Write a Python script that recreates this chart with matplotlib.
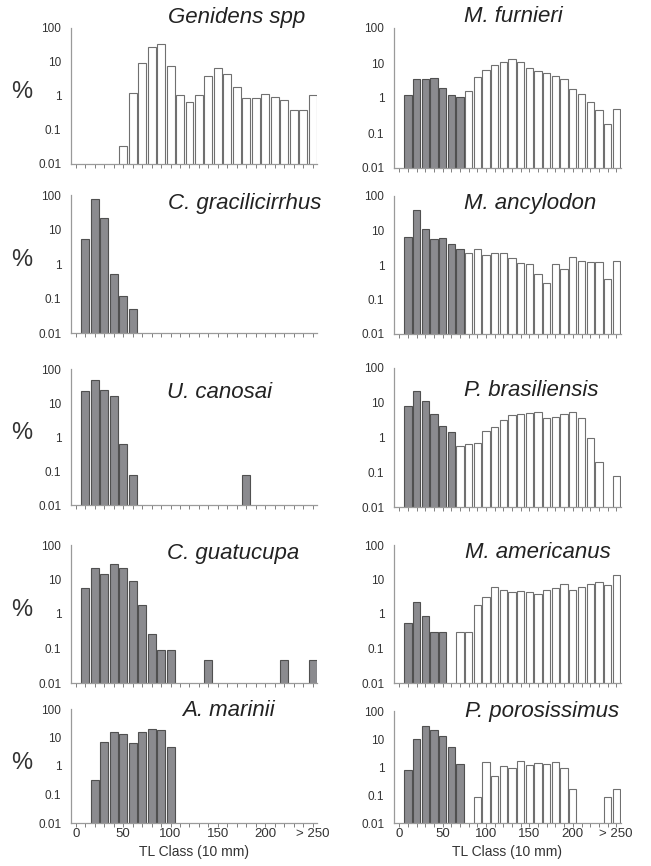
import numpy as np
import matplotlib.pyplot as plt

plt.rcParams['font.family'] = ['Liberation Sans', 'DejaVu Sans']

# TL CLASSES (10 mm), 0 ... > 250
tl_class = np.arange(26)
tick_labels = ["0", "", "", "", "", "50", "", "", "", "", "100", "", "", "", "", "150",
               "", "", "", "", "200", "", "", "", "", "> 250"]
y_ticks = [0.01, 0.1, 1, 10, 100]
y_labels = ["0.01", "0.1", "1", "10", "100"]

# PERCENT PER CLASS (0 = no fish in class)
genidens = [0, 0, 0, 0, 0, 0.035, 1.25, 9.3, 28, 34, 7.8, 1.05, 0.67, 1.05, 3.8, 6.6,
            4.4, 1.85, 0.88, 0.88, 1.15, 0.93, 0.78, 0.4, 0.4, 1.08]
c_gracilicirrhus = [0, 5.3, 78, 21, 0.53, 0.12, 0.05, 0, 0, 0, 0, 0, 0, 0, 0, 0,
                    0, 0, 0, 0, 0, 0, 0, 0, 0, 0]
u_canosai = [0, 22, 47, 23.5, 16.3, 0.62, 0.077, 0, 0, 0, 0, 0, 0, 0, 0, 0,
             0, 0, 0.077, 0, 0, 0, 0, 0, 0, 0]
c_guatucupa = [0, 5.6, 22, 14, 29, 21, 9, 1.8, 0.27, 0.093, 0.093, 0, 0, 0, 0.047, 0,
               0, 0, 0, 0, 0, 0, 0.047, 0, 0, 0.047]
a_marinii = [0, 0, 0.33, 6.7, 15.5, 13, 6.3, 15.5, 20.5, 18, 4.6, 0, 0, 0, 0, 0,
             0, 0, 0, 0, 0, 0, 0, 0, 0, 0]
m_furnieri = [0, 1.19, 3.4, 3.6, 3.7, 1.93, 1.22, 1.04, 1.62, 4.1, 6.4, 8.9, 10.4, 13, 10.9, 7.4,
              6.0, 5.2, 4.3, 3.6, 1.8, 1.3, 0.77, 0.45, 0.18, 0.5]
m_ancylodon = [0, 6.3, 38, 11.4, 5.6, 5.9, 4.0, 3.0, 2.27, 2.83, 1.94, 2.3, 2.3, 1.63, 1.17, 1.05,
               0.54, 0.31, 1.05, 0.77, 1.66, 1.3, 1.2, 1.2, 0.4, 1.3]
p_brasiliensis = [0, 8.2, 21.7, 11.1, 4.8, 2.1, 1.43, 0.57, 0.66, 0.69, 1.52, 2.07, 3.2, 4.5, 4.9, 5.0,
                  5.6, 3.7, 3.9, 4.9, 5.5, 3.6, 1.0, 0.2, 0, 0.08]
m_americanus = [0, 0.55, 2.3, 0.9, 0.3, 0.3, 0, 0.3, 0.3, 1.8, 3.1, 6.2, 5.0, 4.4, 4.6, 4.4,
                3.8, 4.8, 5.8, 7.2, 5.0, 6.0, 7.2, 8.5, 7.0, 13.5]
p_porosissimus = [0, 0.8, 9.7, 30, 21.5, 12.8, 5.2, 1.25, 0, 0.085, 1.5, 0.49, 1.09, 0.9, 1.64, 1.15,
                  1.39, 1.31, 1.5, 0.9, 0.16, 0, 0, 0, 0.085, 0.16]

# classes below this index are drawn grey
grey_cut_left = [0, 26, 26, 26, 26]
grey_cut_right = [8, 8, 7, 6, 8]

names_left = ["Genidens spp", "C. gracilicirrhus", "U. canosai", "C. guatucupa", "A. marinii"]
names_right = ["M. furnieri", "M. ancylodon", "P. brasiliensis", "M. americanus", "P. porosissimus"]
data_left = [genidens, c_gracilicirrhus, u_canosai, c_guatucupa, a_marinii]
data_right = [m_furnieri, m_ancylodon, p_brasiliensis, m_americanus, p_porosissimus]

# LAYOUT (pixels)
W, H = 651, 866
rows_left = [(28, 164), (195, 333), (369, 505), (545, 683), (709, 823)]
rows_right = [(28, 168), (196, 334), (368, 507), (545, 683), (711, 823)]
col_x = [(71, 317), (394, 621)]
col_xlim = [(-0.5, 25.45), (-0.6, 25.55)]
title_left = [(168, 17), (168, 204), (167, 392), (167, 553), (182, 710)]
title_right = [(464, 17), (464, 203), (464, 390), (465, 553), (465, 712)]

fig = plt.figure(figsize=(W / 100, H / 100), dpi=100)


def draw_panel(col, row, vals, cut, top, bottom, name, tpos):
    x0, x1 = col_x[col]
    ax = fig.add_axes([x0 / W, 1 - bottom / H, (x1 - x0) / W, (bottom - top) / H])
    vals = np.array(vals, dtype=float)
    keep = vals > 0
    grey = keep & (tl_class < cut)
    white = keep & (tl_class >= cut)
    ax.bar(tl_class[grey], vals[grey], width=0.84, color="#8b8b8f", edgecolor="#505050",
           linewidth=0.8, log=True)
    ax.bar(tl_class[white], vals[white], width=0.84, color="white", edgecolor="#707070",
           linewidth=0.8, log=True)
    ax.set_yscale("log")
    ax.set_ylim(0.01, 100)
    ax.set_xlim(*col_xlim[col])
    ax.set_yticks(y_ticks)
    ax.set_yticklabels(y_labels)
    ax.minorticks_off()
    ax.set_xticks(tl_class)
    if row == 4:
        ax.set_xticklabels(tick_labels)
    else:
        ax.set_xticklabels([])
    for s in ["top", "right"]:
        ax.spines[s].set_visible(False)
    for s in ["left", "bottom"]:
        ax.spines[s].set_color("#9a9a9a")
        ax.spines[s].set_linewidth(0.9)
    ax.tick_params(axis="y", length=0, pad=7, labelsize=8.5, labelcolor="#333333")
    ax.tick_params(axis="x", length=3, width=0.7, color="#808080", pad=0.5,
                   labelsize=9.5, labelcolor="#333333")
    fig.text(tpos[0] / W, 1 - tpos[1] / H, name, style="italic", fontsize=16,
             color="#222222", ha="left", va="center")
    if col == 0:
        ax.text(-0.2, 0.53, "%", transform=ax.transAxes, fontsize=17, color="#333333",
                ha="center", va="center")
    return ax


for i in range(5):
    draw_panel(0, i, data_left[i], grey_cut_left[i], rows_left[i][0], rows_left[i][1],
               names_left[i], title_left[i])
    draw_panel(1, i, data_right[i], grey_cut_right[i], rows_right[i][0], rows_right[i][1],
               names_right[i], title_right[i])

# X AXIS TITLES
fig.text(194 / W, 1 - 852 / H, "TL Class (10 mm)", fontsize=10, color="#333333",
         ha="center", va="center")
fig.text(507 / W, 1 - 852 / H, "TL Class (10 mm)", fontsize=10, color="#333333",
         ha="center", va="center")

plt.savefig("out.png", dpi=100)
